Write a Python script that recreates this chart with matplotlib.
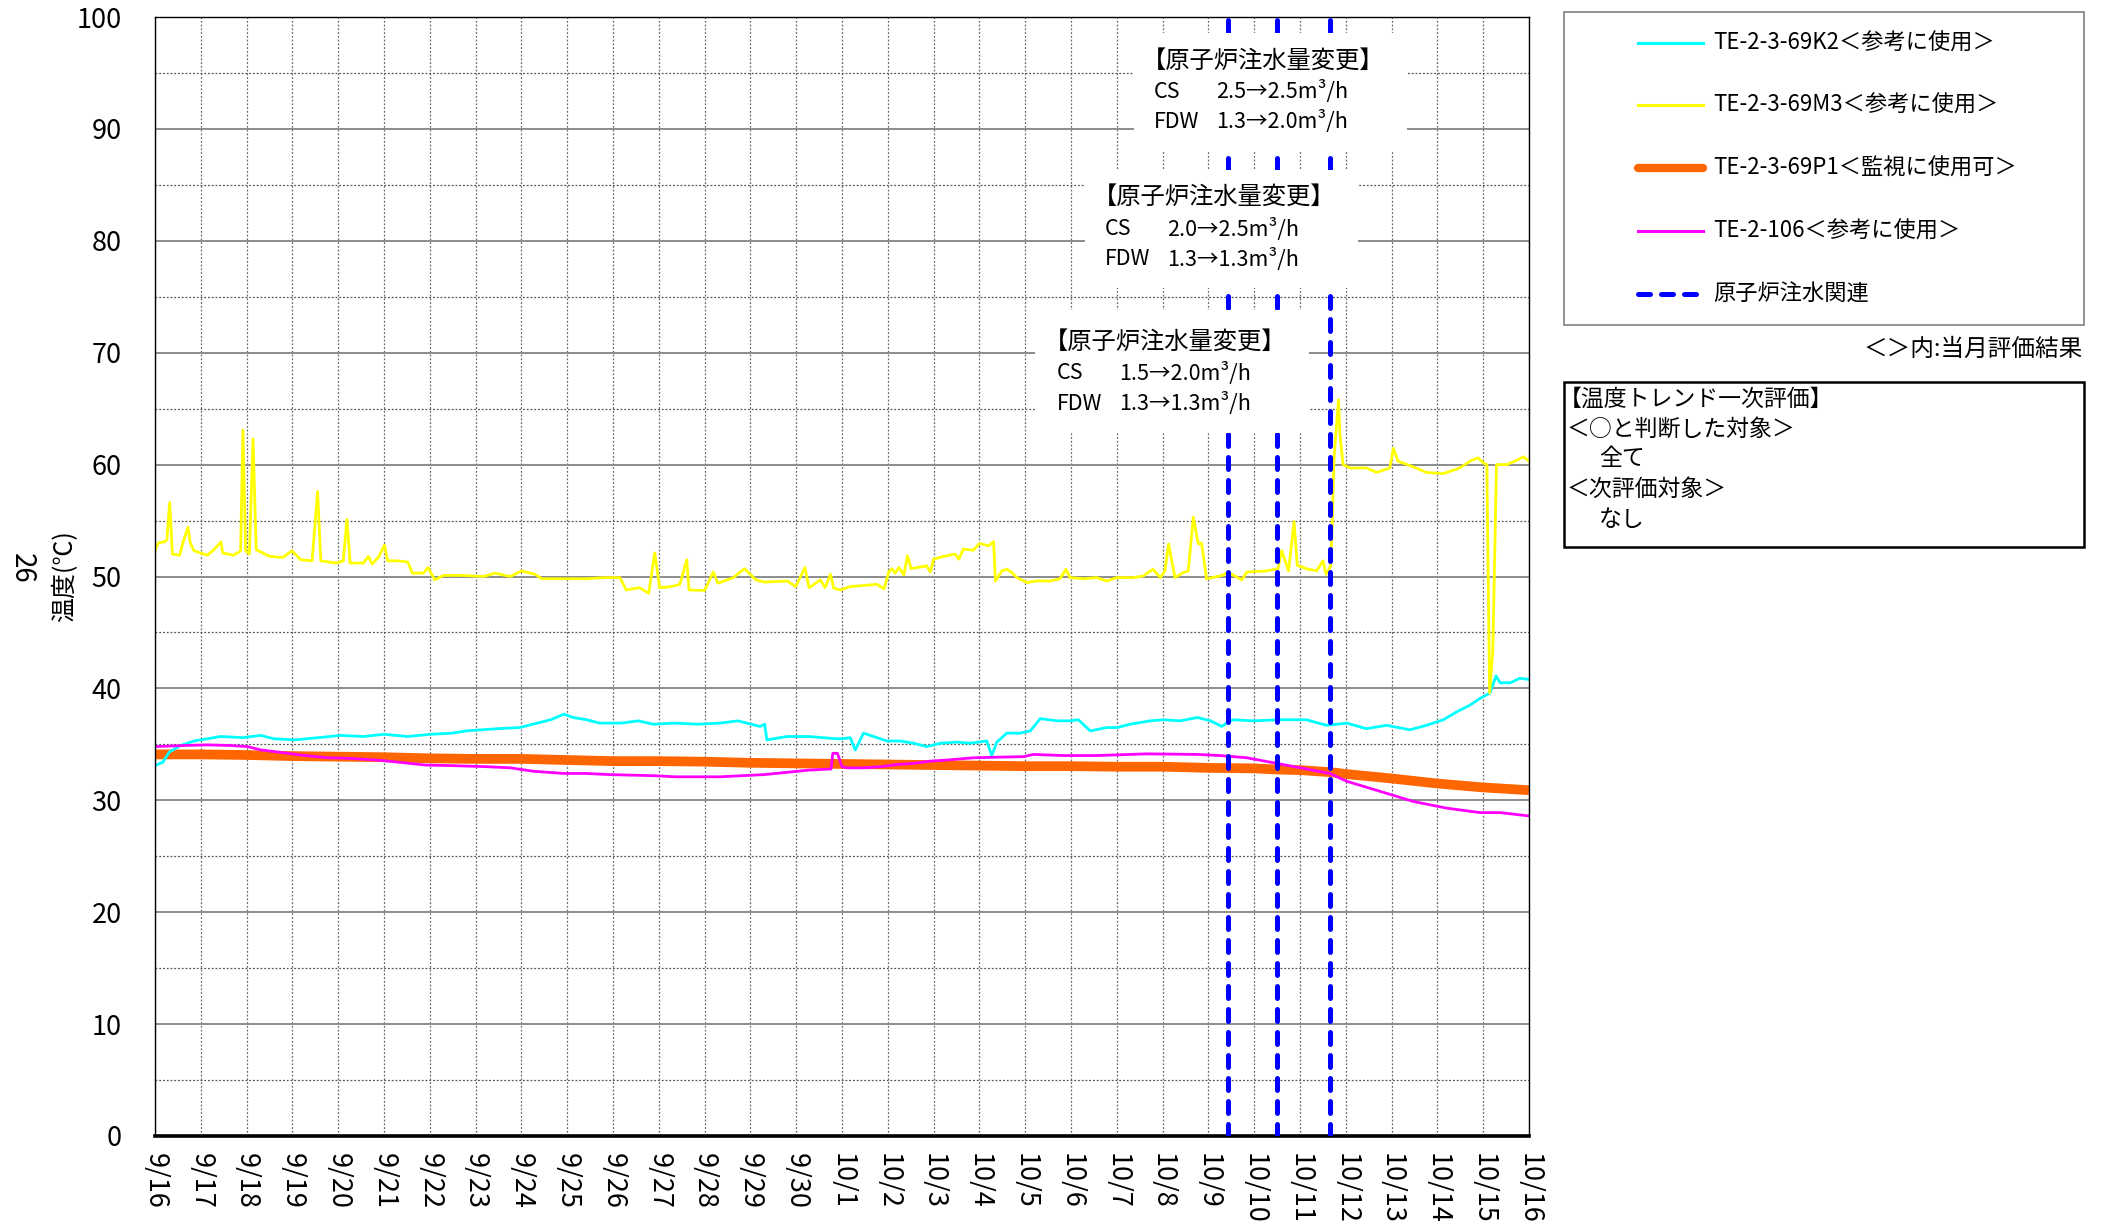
import matplotlib
matplotlib.use('Agg')
import matplotlib.pyplot as plt
from matplotlib.lines import Line2D
from matplotlib.patches import Rectangle

plt.rcParams['font.family'] = ['Noto Sans CJK JP', 'DejaVu Sans']

# ---------------- data (x = days since 9/16 00:00) ----------------
date_labels = ['9/16', '9/17', '9/18', '9/19', '9/20', '9/21', '9/22', '9/23', '9/24', '9/25',
               '9/26', '9/27', '9/28', '9/29', '9/30', '10/1', '10/2', '10/3', '10/4', '10/5',
               '10/6', '10/7', '10/8', '10/9', '10/10', '10/11', '10/12', '10/13', '10/14',
               '10/15', '10/16']
y_ticks = [0, 10, 20, 30, 40, 50, 60, 70, 80, 90, 100]

series_labels = ['TE-2-3-69K2＜参考に使用＞', 'TE-2-3-69M3＜参考に使用＞',
                 'TE-2-3-69P1＜監視に使用可＞', 'TE-2-106＜参考に使用＞', '原子炉注水関連']

# TE-2-3-69M3 (yellow)
m3_days = [0.00, 0.07, 0.21, 0.26, 0.32, 0.38, 0.54, 0.60, 0.72, 0.77, 0.85, 1.14, 1.29, 1.44, 1.48,
           1.72, 1.87, 1.92, 1.98, 2.06, 2.14, 2.21, 2.50, 2.79, 2.99, 3.18, 3.43, 3.55, 3.62, 3.96,
           4.11, 4.19, 4.26, 4.55, 4.66, 4.74, 4.89, 5.01, 5.08, 5.28, 5.52, 5.62, 5.86, 5.96, 6.11,
           6.30, 6.69, 7.18, 7.42, 7.76, 8.00, 8.30, 8.44, 8.93, 9.42, 9.81, 10.15, 10.29, 10.58,
           10.78, 10.91, 11.02, 11.27, 11.46, 11.61, 11.66, 12.00, 12.19, 12.29, 12.63, 12.87, 13.12,
           13.31, 13.80, 13.99, 14.19, 14.28, 14.53, 14.63, 14.75, 14.82, 14.96, 15.18, 15.47, 15.76,
           15.92, 16.02, 16.09, 16.16, 16.24, 16.35, 16.43, 16.51, 16.64, 16.85, 16.93, 17.00, 17.22,
           17.47, 17.55, 17.65, 17.87, 18.00, 18.20, 18.31, 18.35, 18.49, 18.60, 18.71, 18.82, 19.04,
           19.25, 19.55, 19.76, 19.89, 19.98, 20.27, 20.56, 20.78, 21.00, 21.36, 21.58, 21.79, 21.95,
           22.05, 22.13, 22.20, 22.27, 22.45, 22.56, 22.67, 22.78, 22.85, 22.96, 23.31, 23.42, 23.73,
           23.84, 24.27, 24.52, 24.60, 24.75, 24.87, 24.94, 25.14, 25.36, 25.50, 25.57, 25.67, 25.71,
           25.74, 25.84, 25.87, 25.94, 26.09, 26.45, 26.67, 26.96, 27.04, 27.14, 27.47, 27.76, 28.13,
           28.49, 28.75, 28.89, 29.02, 29.08, 29.14, 29.21, 29.29, 29.52, 29.74, 29.88, 30.00]
m3_vals = [52.3, 53.0, 53.1, 53.3, 56.6, 52.0, 51.9, 52.9, 54.4, 53.0, 52.3, 51.9, 52.4, 53.1, 52.1,
           51.9, 52.3, 63.1, 52.3, 52.0, 62.3, 52.4, 51.8, 51.7, 52.3, 51.5, 51.4, 57.6, 51.4, 51.2,
           51.4, 55.1, 51.2, 51.2, 51.8, 51.1, 51.8, 52.8, 51.4, 51.4, 51.3, 50.3, 50.3, 50.8, 49.7,
           50.1, 50.1, 50.0, 50.3, 50.0, 50.5, 50.2, 49.8, 49.8, 49.8, 49.9, 49.9, 48.8, 49.0,
           48.5, 52.1, 49.0, 49.1, 49.3, 51.5, 48.8, 48.75, 50.4, 49.4, 49.9, 50.7, 49.7,
           49.5, 49.6, 49.1, 50.8, 49.0, 49.7, 49.0, 50.2, 48.95, 48.8, 49.1, 49.2, 49.3,
           48.9, 50.4, 50.7, 50.3, 50.8, 50.15, 51.85, 50.7, 50.8, 50.95, 50.4, 51.55, 51.8,
           52.0, 51.55, 52.45, 52.35, 52.95, 52.75, 53.1, 49.6, 50.5, 50.65, 50.35, 49.9, 49.46,
           49.6, 49.6, 49.8, 50.65, 49.9, 49.8, 49.9, 49.6, 49.9, 49.9, 50.05, 50.65, 49.9,
           50.5, 52.9, 51.4, 49.9, 50.35, 50.5, 55.3, 52.9, 53.0, 49.8, 50.1, 50.4, 49.7,
           50.4, 50.5, 50.7, 52.3, 50.5, 54.9, 51.0, 50.7, 50.5, 51.4, 50.2, 50.9, 55.4,
           60.4, 65.8, 62.8, 60.0, 59.7, 59.7, 59.3, 59.7, 61.45, 60.3, 59.8, 59.3, 59.2,
           59.7, 60.4, 60.6, 60.1, 60.0, 39.6, 43.4, 60.0, 60.0, 60.4, 60.7, 60.3]

# TE-2-3-69K2 (cyan)
k2_days = [0.00, 0.17, 0.31, 0.56, 0.85, 1.14, 1.43, 1.92, 2.30, 2.60, 3.05, 3.57, 4.05, 4.55, 5.00,
           5.52, 6.01, 6.49, 6.79, 7.47, 7.96, 8.25, 8.64, 8.93, 9.13, 9.42, 9.71, 10.19, 10.55, 10.88,
           11.35, 11.85, 12.34, 12.73, 13.21, 13.31, 13.36, 13.80, 14.28, 14.87, 15.00, 15.18, 15.29,
           15.47, 15.69, 15.98, 16.27, 16.56, 16.85, 17.15, 17.51, 17.80, 18.16, 18.27, 18.38, 18.60,
           18.89, 19.11, 19.33, 19.69, 19.98, 20.16, 20.42, 20.78, 21.00, 21.29, 21.73, 22.02, 22.38,
           22.76, 23.05, 23.29, 23.47, 23.55, 23.98, 24.56, 25.14, 25.58, 26.02, 26.45, 26.89, 27.40,
           27.76, 28.13, 28.42, 28.71, 28.93, 29.15, 29.28, 29.37, 29.59, 29.80, 30.00]
k2_vals = [33.1, 33.4, 34.3, 34.9, 35.3, 35.5, 35.7, 35.6, 35.8, 35.5, 35.4, 35.6, 35.8, 35.7, 35.9,
           35.7, 35.9, 36.0, 36.2, 36.4, 36.5, 36.8, 37.2, 37.7, 37.4, 37.2, 36.9, 36.9, 37.1, 36.8,
           36.9, 36.8, 36.9, 37.1, 36.6, 36.8, 35.4, 35.7, 35.7, 35.5, 35.5, 35.6, 34.5,
           36.0, 35.7, 35.3, 35.3, 35.1, 34.8, 35.1, 35.2, 35.1, 35.3, 34.0, 35.2, 36.0,
           36.0, 36.2, 37.3, 37.1, 37.1, 37.2, 36.2, 36.5, 36.5, 36.8, 37.1, 37.2, 37.1,
           37.4, 37.1, 36.6, 37.1, 37.2, 37.1, 37.2, 37.2, 36.7, 36.9, 36.4, 36.7, 36.3,
           36.7, 37.2, 37.9, 38.5, 39.1, 39.6, 41.1, 40.5, 40.5, 40.9, 40.8]

# TE-2-3-69P1 (orange)
p1_days = [0.0, 1.0, 2.0, 3.0, 4.0, 5.0, 6.0, 7.0, 8.0, 9.0, 10.0, 11.0, 12.0, 13.0, 14.0, 15.0,
           16.0, 17.0, 18.0, 19.0, 20.0, 21.0, 22.0, 23.0, 24.0, 24.5, 25.0, 25.7, 26.0, 27.0, 28.0,
           29.0, 30.0]
p1_vals = [34.1, 34.1, 34.05, 33.95, 33.9, 33.85, 33.75, 33.7, 33.7, 33.6, 33.5, 33.5, 33.45, 33.35,
           33.3, 33.25, 33.2, 33.15, 33.1, 33.05, 33.05, 33.0, 33.0, 32.9, 32.85, 32.75, 32.7, 32.5,
           32.35, 31.95, 31.5, 31.15, 30.9]

# TE-2-106 (magenta)
t106_days = [0.00, 0.65, 1.14, 1.63, 2.02, 2.31, 2.70, 3.18, 3.77, 4.26, 4.84, 5.33, 5.91, 6.49, 7.27,
             7.76, 8.25, 8.93, 9.42, 9.90, 10.88, 11.36, 12.34, 12.82, 13.31, 13.80, 14.28, 14.76,
             14.80, 14.90, 15.00, 15.11, 15.47, 15.84, 16.20, 16.56, 16.93, 17.29, 17.87, 18.38, 18.96,
             19.18, 19.84, 20.56, 21.29, 21.65, 22.76, 23.25, 23.84, 24.49, 25.14, 25.65, 26.02, 26.75,
             27.47, 28.20, 28.93, 29.37, 30.00]
t106_vals = [34.8, 34.9, 34.95, 34.9, 34.8, 34.5, 34.3, 34.05, 33.8, 33.75, 33.6, 33.4, 33.15, 33.1,
             33.0, 32.9, 32.6, 32.4, 32.4, 32.3, 32.2, 32.1, 32.1, 32.2, 32.3, 32.5, 32.7, 32.8,
             34.2, 34.2, 33.0, 32.9, 32.9, 33.0, 33.2, 33.3, 33.5, 33.6, 33.8, 33.85, 33.9,
             34.1, 34.0, 34.0, 34.1, 34.15, 34.1, 34.0, 33.8, 33.3, 32.8, 32.4, 31.7, 30.8,
             29.9, 29.3, 28.9, 28.9, 28.6]

# reactor injection changes (days since 9/16)
inj_days = [23.43, 24.50, 25.65]
ann_title = '【原子炉注水量変更】'
ann_cs = ['1.5→2.0m³/h', '2.0→2.5m³/h', '2.5→2.5m³/h']
ann_fdw = ['1.3→1.3m³/h', '1.3→1.3m³/h', '1.3→2.0m³/h']

eval_lines = ['【温度トレンド一次評価】', '＜○と判断した対象＞', '全て', '＜次評価対象＞', 'なし']
legend_note = '＜＞内:当月評価結果'

# ---------------- figure ----------------
W, H = 2108, 1227
fig = plt.figure(figsize=(W / 100, H / 100), dpi=100)
fx = lambda px: px / W
fy = lambda py: 1 - py / H

ax = fig.add_axes([fx(155), fy(1136), 1374 / W, 1119 / H])
ax.set_xlim(0, 30)
ax.set_ylim(0, 100)

ax.set_yticks(y_ticks)
ax.set_yticks(range(5, 100, 10), minor=True)
ax.set_xticks(range(len(date_labels)))
ax.set_xticklabels(date_labels, rotation=-90, fontsize=19.5)
ax.tick_params(axis='y', labelsize=19.5, pad=24)
ax.tick_params(axis='x', pad=12)
ax.tick_params(which='both', length=0)

ax.grid(axis='y', which='major', color='#8c8c8c', lw=1.4, ls='-')
ax.grid(axis='y', which='minor', color='#555555', lw=0.9, ls=(0, (1.5, 1.5)))
ax.grid(axis='x', which='major', color='#6a6a6a', lw=0.9, ls=(0, (1.5, 1.5)))
ax.set_axisbelow(True)
for s in ['left', 'top', 'right']:
    ax.spines[s].set_color('black')
    ax.spines[s].set_linewidth(1.0)
ax.spines['bottom'].set_linewidth(2.6)
ax.spines['bottom'].set_color('black')

ax.set_ylabel('温度(℃)', fontsize=18, va='center')
ax.yaxis.set_label_coords((65 - 155) / 1374, 0.5)

colors = ['#00ffff', '#ffff00', '#ff6600', '#ff00ff', '#0000ff']
ax.plot(p1_days, p1_vals, color=colors[2], lw=7, solid_capstyle='butt', zorder=2)
ax.plot(k2_days, k2_vals, color=colors[0], lw=2, zorder=2.2)
ax.plot(m3_days, m3_vals, color=colors[1], lw=2, zorder=2.3)
ax.plot(t106_days, t106_vals, color=colors[3], lw=2, zorder=2.4)
for d in inj_days:
    ax.axvline(d, color=colors[4], lw=3.6, ls=(0, (2.4, 2.2)), dash_capstyle='round', zorder=4)

# annotation boxes (white background hiding grid / dashed lines)
px2d = lambda x: (x - 155) / 45.8
px2v = lambda y: (1136 - y) / 11.19
boxes = [(1035, 1309, 310, 433), (1085, 1358, 170, 288), (1134, 1407, 33, 152)]
title_x = [1044, 1093, 1142]
cs_x = [1057, 1105, 1154]
rows_y = [(342, 373, 404), (197, 229, 259), (61, 92, 122)]
for i in range(3):
    x0, x1, y0, y1 = boxes[i]
    ax.add_patch(Rectangle((px2d(x0), px2v(y1)), px2d(x1) - px2d(x0), px2v(y0) - px2v(y1),
                           facecolor='white', edgecolor='none', zorder=5))
    ty, cy, fy_ = rows_y[i]
    ax.text(px2d(title_x[i]), px2v(ty), ann_title, fontsize=17.5, ha='left', va='center', zorder=6)
    ax.text(px2d(cs_x[i]), px2v(cy), 'CS', fontsize=15.5, ha='left', va='center', zorder=6)
    ax.text(px2d(cs_x[i] + 62), px2v(cy), ann_cs[i], fontsize=15.5, ha='left', va='center', zorder=6)
    ax.text(px2d(cs_x[i]), px2v(fy_), 'FDW', fontsize=15.5, ha='left', va='center', zorder=6)
    ax.text(px2d(cs_x[i] + 62), px2v(fy_), ann_fdw[i], fontsize=15.5, ha='left', va='center', zorder=6)

# ---------------- legend (drawn in figure coordinates) ----------------
fig.add_artist(Rectangle((fx(1563.5), fy(325)), (2084 - 1563.5) / W, (325 - 11.7) / H,
                         transform=fig.transFigure, fill=False, edgecolor='#808080', lw=1.2))
leg_y = [43, 105, 168, 231, 294]
leg_styles = [dict(color=colors[0], lw=2.2),
              dict(color=colors[1], lw=2.2),
              dict(color=colors[2], lw=6, solid_capstyle='round'),
              dict(color=colors[3], lw=2.2),
              dict(color=colors[4], lw=3.6, ls=(0, (2.4, 2.2)), dash_capstyle='round')]
for y, lab, st in zip(leg_y, series_labels, leg_styles):
    fig.add_artist(Line2D([fx(1638), fx(1703)], [fy(y), fy(y)], transform=fig.transFigure, **st))
    fig.text(fx(1713), fy(y), lab, fontsize=16, ha='left', va='center')
fig.text(fx(2083), fy(349), legend_note, fontsize=17, ha='right', va='center')

# ---------------- evaluation box ----------------
fig.add_artist(Rectangle((fx(1563.5), fy(547)), (2084 - 1563.5) / W, (547 - 381.7) / H,
                         transform=fig.transFigure, fill=False, edgecolor='black', lw=1.8))
ev_x = [1559, 1567, 1599, 1567, 1599]
ev_y = [399, 429, 458, 489, 519]
for x, y, t in zip(ev_x, ev_y, eval_lines):
    fig.text(fx(x), fy(y), t, fontsize=16.5, ha='left', va='center')

fig.text(fx(21.5), fy(568), '26', fontsize=20, rotation=-90, ha='center', va='center')

fig.savefig('out.png', dpi=100)
